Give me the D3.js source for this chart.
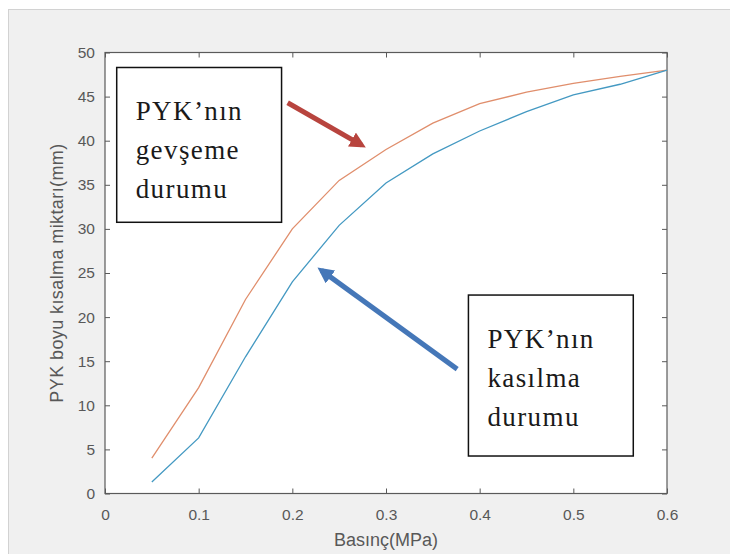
<!DOCTYPE html>
<html>
<head>
<meta charset="utf-8">
<script src="https://cdn.jsdelivr.net/npm/d3@7"></script>
<style>
  body { margin: 0; background: #fff; }
  svg { display: block; }
</style>
</head>
<body>
<svg id="chart" width="730" height="554"></svg>
<script>
// basınç değerleri (MPa)
var pressure = [0.05, 0.1, 0.15, 0.2, 0.25, 0.3, 0.35, 0.4, 0.45, 0.5, 0.55, 0.6];
// gevşeme (upper curve) and kasılma (lower curve), mm
var relaxValues = [4.0, 12.0, 22.0, 30.0, 35.5, 39.0, 42.0, 44.2, 45.5, 46.5, 47.3, 48.0];
var contractValues = [1.3, 6.3, 15.5, 24.0, 30.4, 35.2, 38.5, 41.1, 43.3, 45.2, 46.4, 48.0];
var xTicks = [0, 0.1, 0.2, 0.3, 0.4, 0.5, 0.6];
var yTicks = [0, 5, 10, 15, 20, 25, 30, 35, 40, 45, 50];
var xLabel = 'Basınç(MPa)';
var yLabel = 'PYK boyu kısalma miktarı(mm)';
var relaxNote = ['PYK\u2019nın', 'gevşeme', 'durumu'];
var contractNote = ['PYK\u2019nın', 'kasılma', 'durumu'];

var svg = d3.select('#chart');
var margin = { top: 52.5, left: 105, right: 63, bottom: 60.5 };
var width = 730 - margin.left - margin.right;
var height = 554 - margin.top - margin.bottom;
var sans = 'Liberation Sans, Arial, sans-serif';

// gray figure panel
svg.append('rect')
   .attr('x', 8.5).attr('y', 9.5)
   .attr('width', 740).attr('height', 560)
   .attr('fill', '#f0f0f0')
   .attr('stroke', '#d2d2d2');

var x = d3.scaleLinear().domain([0, 0.6]).range([0, width]);
var y = d3.scaleLinear().domain([0, 50]).range([height, 0]);

var g = svg.append('g').attr('transform', `translate(${margin.left},${margin.top})`);

g.append('rect').attr('width', width).attr('height', height).attr('fill', '#fff');

var axisColor = '#5a5a5a';
function styleAxis(sel, showText) {
  sel.select('.domain').remove();
  sel.selectAll('line').attr('stroke', axisColor);
  sel.selectAll('text')
     .attr('fill', '#585858')
     .attr('font-family', sans)
     .attr('font-size', 15.5)
     .style('display', showText ? null : 'none');
}

g.append('g').attr('transform', `translate(0,${height})`)
 .call(d3.axisBottom(x).tickValues(xTicks).tickSize(-5).tickPadding(15).tickFormat(d3.format('')))
 .call(styleAxis, true);
g.append('g')
 .call(d3.axisTop(x).tickValues(xTicks).tickSize(-5).tickFormat(''))
 .call(styleAxis, false);
g.append('g')
 .call(d3.axisLeft(y).tickValues(yTicks).tickSize(-5).tickPadding(10))
 .call(styleAxis, true);
g.append('g').attr('transform', `translate(${width},0)`)
 .call(d3.axisRight(y).tickValues(yTicks).tickSize(-5).tickFormat(''))
 .call(styleAxis, false);

g.append('rect').attr('width', width).attr('height', height)
 .attr('fill', 'none').attr('stroke', axisColor).attr('stroke-width', 1.2);

// curves
var line = d3.line().x((d, i) => x(pressure[i])).y(d => y(d));
g.append('path').datum(relaxValues).attr('d', line)
 .attr('fill', 'none').attr('stroke', '#e08e6c').attr('stroke-width', 1.3);
g.append('path').datum(contractValues).attr('d', line)
 .attr('fill', 'none').attr('stroke', '#4499c2').attr('stroke-width', 1.3);

// axis labels
svg.append('text')
   .attr('x', margin.left + width / 2).attr('y', 546)
   .attr('text-anchor', 'middle')
   .attr('font-family', sans)
   .attr('font-size', 18).attr('fill', '#585858')
   .text(xLabel);
svg.append('text')
   .attr('transform', `translate(63,${margin.top + height / 2}) rotate(-90)`)
   .attr('text-anchor', 'middle')
   .attr('font-family', sans)
   .attr('font-size', 18).attr('letter-spacing', 0.4).attr('fill', '#585858')
   .text(yLabel);

// arrows
var defs = svg.append('defs');
function arrowHead(id, color) {
  defs.append('marker').attr('id', id)
      .attr('viewBox', '0 0 10 10').attr('refX', 7).attr('refY', 5)
      .attr('markerWidth', 3.2).attr('markerHeight', 3.2)
      .attr('orient', 'auto')
      .append('path').attr('d', 'M0,0 L10,5 L0,10 Z').attr('fill', color);
}
arrowHead('redHead', '#b8443e');
arrowHead('blueHead', '#4577b8');

g.append('line')
 .attr('x1', x(0.195)).attr('y1', y(44.3)).attr('x2', x(0.274)).attr('y2', y(39.5))
 .attr('stroke', '#b8443e').attr('stroke-width', 5).attr('marker-end', 'url(#redHead)');
g.append('line')
 .attr('x1', x(0.376)).attr('y1', y(14.1)).attr('x2', x(0.231)).attr('y2', y(25.3))
 .attr('stroke', '#4577b8').attr('stroke-width', 5).attr('marker-end', 'url(#blueHead)');

// annotation boxes
function noteBox(lines, x0, y0, x1, y1) {
  var b = g.append('g');
  b.append('rect')
   .attr('x', x(x0)).attr('y', y(y0))
   .attr('width', x(x1) - x(x0)).attr('height', y(y1) - y(y0))
   .attr('fill', '#fff').attr('stroke', '#111').attr('stroke-width', 1.5);
  b.selectAll('text').data(lines).enter().append('text')
   .attr('x', x(x0) + 19)
   .attr('y', (d, i) => y(y0) + 53 + i * 39)
   .attr('font-family', 'Liberation Serif, Times New Roman, serif')
   .attr('font-size', 27).attr('letter-spacing', 1.4)
   .attr('fill', '#1a1a1a')
   .text(d => d);
}
noteBox(relaxNote, 0.0125, 48.3, 0.1885, 30.75);
noteBox(contractNote, 0.388, 22.5, 0.564, 4.25);
</script>
</body>
</html>
